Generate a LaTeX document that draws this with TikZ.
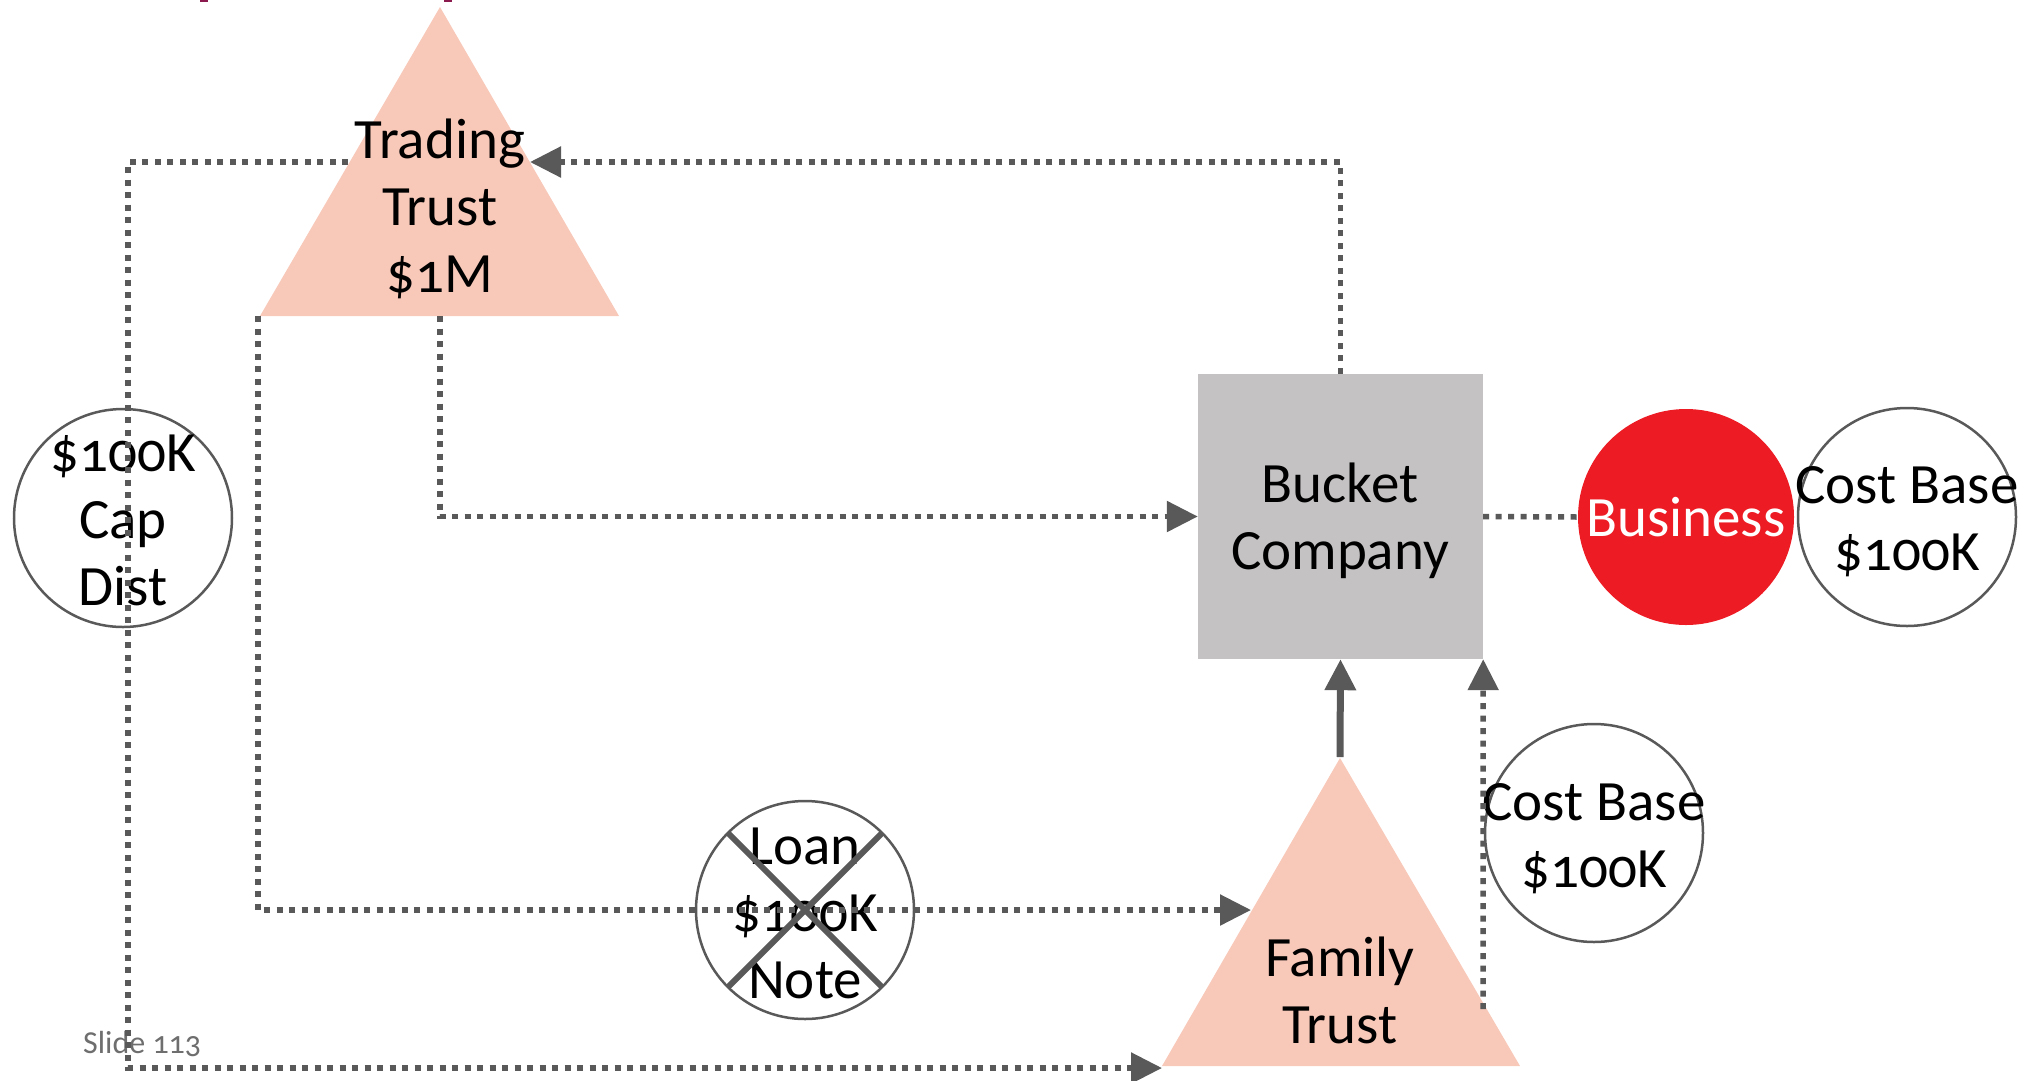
\documentclass[tikz,border=0pt]{standalone}
\usepackage{fontspec}
\setmainfont{Carlito}[Numbers=OldStyle]
\usetikzlibrary{arrows.meta,calc}
\definecolor{linegray}{HTML}{595959}
\definecolor{trustpeach}{HTML}{F8C8B9}
\definecolor{bucketgray}{HTML}{C4C2C3}
\definecolor{bizred}{HTML}{ED1C24}
\definecolor{slidegray}{HTML}{6E6E6E}
\definecolor{titlered}{HTML}{8B1A4F}
\tikzset{
  flow/.style={draw=linegray, line width=5.5pt, dash pattern=on 6pt off 6.5pt},
  solidflow/.style={draw=linegray, line width=7pt},
  arrowend/.style={-{Triangle[length=31pt,width=30pt,fill=linegray]}},
  lbl/.style={font=\fontsize{57}{67}\selectfont, align=center, inner sep=0pt, text=black},
  ring/.style={circle, draw=linegray, line width=2.5pt, minimum size=218pt, inner sep=0pt},
  trust/.style={fill=trustpeach},
}
\begin{document}
\begin{tikzpicture}[x=1pt, y=-1pt]
\useasboundingbox (0,0) rectangle (2042,1080);

% remains of the heading above the picture
\fill[titlered] (200,0) rectangle (208,2);
\fill[titlered] (444,0) rectangle (452,2);

% trading trust
\coordinate (tt-apex) at (440,7);
\coordinate (tt-left) at (260,316);
\coordinate (tt-right) at (619,316);
\fill[trust] (tt-apex) -- (tt-right) -- (tt-left) -- cycle;
\node[lbl] (tt) at (440,209) {Trading\\Trust\\\$1M};

% family trust
\coordinate (ft-apex) at (1340,758);
\coordinate (ft-left) at (1162,1066);
\coordinate (ft-right) at (1520,1066);
\fill[trust] (ft-apex) -- (ft-right) -- (ft-left) -- cycle;
\node[lbl] (ft) at (1340,990) {Family\\Trust};

% bucket company
\node[fill=bucketgray, minimum width=285pt, minimum height=285pt, inner sep=0pt] (bc) at (1340.5,516.5) {};
\node[lbl] (bctext) at (1340,521) {Bucket\\Company};

% business
\node[circle, fill=bizred, minimum size=216pt, inner sep=0pt] (biz) at (1686,517) {};
\node[lbl, text=white] (biztext) at (biz.center) {Business};

% circles with notes
\node[ring] (cbr) at (1907,517) {};
\node[lbl] (cbrtext) at (1907,522) {Cost Base\\\$100K};
\node[ring] (cbl) at (1594,833) {};
\node[lbl] (cbltext) at (1594,839) {Cost Base\\\$100K};
\node[ring] (cap) at (123,518) {};
\node[lbl] (captext) at (123,520) {\$100K\\Cap\\Dist};
\node[ring] (loan) at (805,910) {};
\node[lbl] (loantext) at (805,913) {Loan\\\$100K\\Note};
\draw[linegray, line width=6pt] ($(loan.center)+(-77,-77)$) -- ($(loan.center)+(77,77)$);
\draw[linegray, line width=6pt] ($(loan.center)+(77,-77)$) -- ($(loan.center)+(-77,77)$);

% slide number
\node[font=\fontsize{32}{38}\selectfont, text=slidegray, anchor=west, inner sep=0pt] (slide) at (83,1044) {Slide 113};

% connectors
\coordinate (tt-in) at (530,162);
\coordinate (tt-out) at (348,162);
\coordinate (tt-base) at (440,316);
\coordinate (tt-corner) at (258,316);
\coordinate (ft-in) at (1251,910);
\coordinate (cb-start) at (1483,1009);

\draw[flow, arrowend] (bc.north) |- (tt-in);
\draw[flow, arrowend] (tt-out) -- (128,162) -- (128,1068) -- (ft-left |- 0,1068);
\draw[flow, arrowend] (tt-base) |- (bc.west);
\draw[flow, arrowend] (tt-corner) |- (ft-in);
\draw[flow] (bc.east) -- (biz.west);
\draw[solidflow, arrowend] (1340,757) -- (bc.south);
\draw[flow, arrowend] (cb-start) -- (bc.south east);
\end{tikzpicture}
\end{document}
